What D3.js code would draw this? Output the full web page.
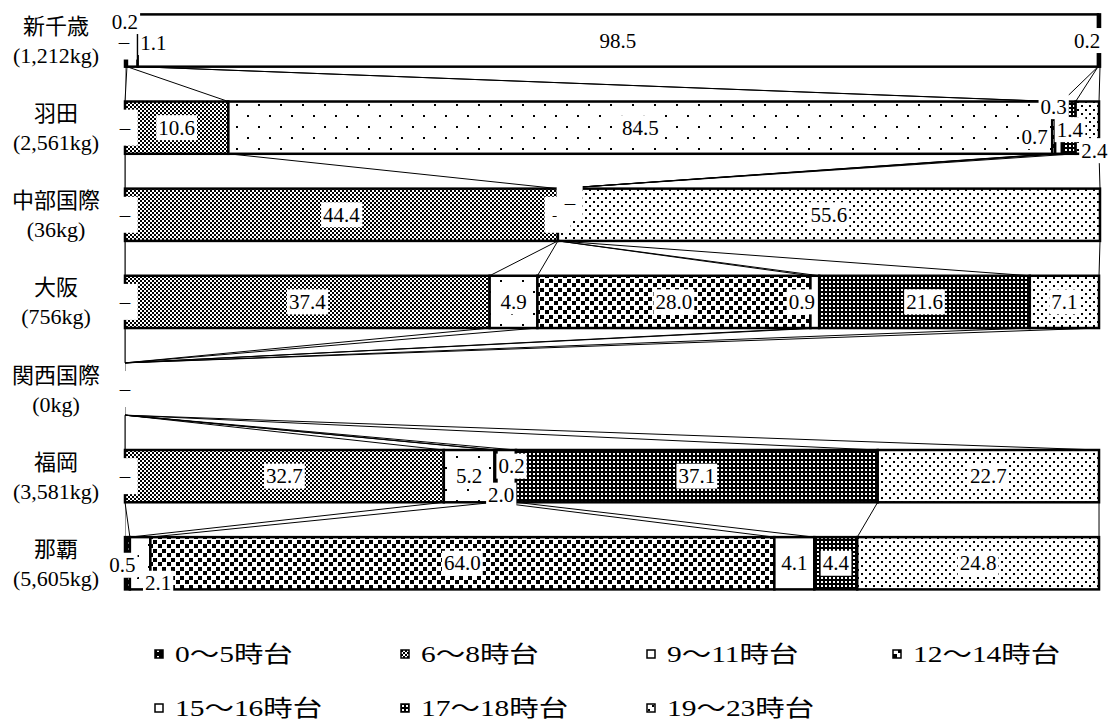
<!DOCTYPE html>
<html lang="ja">
<head>
<meta charset="utf-8">
<script src="https://cdn.jsdelivr.net/npm/d3@7"></script>
<style>
  body { margin: 0; background: #fff; }
  svg text { font-family: "Liberation Serif", "Noto Sans CJK JP", serif; fill: #000; }
</style>
</head>
<body>
<svg id="chart" width="1110" height="722"></svg>
<script>
var airports = ["新千歳", "羽田", "中部国際", "大阪", "関西国際", "福岡", "那覇"];
var weights = ["(1,212kg)", "(2,561kg)", "(36kg)", "(756kg)", "(0kg)", "(3,581kg)", "(5,605kg)"];
var slots = ["0～5時台", "6～8時台", "9～11時台", "12～14時台", "15～16時台", "17～18時台", "19～23時台"];

// share of each time slot (%), 0 is printed as "-", null has no label
var h00_05 = [0.2, 0, 0, 0, 0, 0, 0.5];
var h06_08 = [0, 10.6, 44.4, 37.4, null, 32.7, null];
var h09_11 = [1.1, 84.5, 0, 4.9, null, 5.2, 2.1];
var h12_14 = [null, 0.3, 0, 28.0, null, 0.2, 64.0];
var h15_16 = [98.5, 0.7, null, 0.9, null, 2.0, 4.1];
var h17_18 = [null, 1.4, null, 21.6, null, 37.1, 4.4];
var h19_23 = [0.2, 2.4, 55.6, 7.1, null, 22.7, 24.8];

var series = [h00_05, h06_08, h09_11, h12_14, h15_16, h17_18, h19_23];

// labels that were dragged away from the middle of their segment
var labelShift = {
  "新千歳|0": [-1, -19], "新千歳|1": [-3, 1], "新千歳|2": [21, 2], "新千歳|6": [-12, 0],
  "羽田|3": [0, -21], "羽田|4": [-24, 9], "羽田|5": [1, 2], "羽田|6": [7, 23],
  "中部国際|3": [12, -12],
  "大阪|4": [-13, 0],
  "福岡|3": [16, -10], "福岡|4": [-5, 19],
  "那覇|0": [-5, 2], "那覇|2": [18, 20]
};

var svg = d3.select("#chart");

var x = d3.scaleLinear().domain([0, 100]).range([125, 1100]);
var y = d3.scaleBand().domain(airports).range([14.4, 589.4]).paddingInner(0.4).paddingOuter(0);
var bw = y.bandwidth();

// fill patterns, one per time slot
var defs = svg.append("defs");
function pattern(id, w, h, bg, fg, dots) {
  var p = defs.append("pattern").attr("id", id)
    .attr("patternUnits", "userSpaceOnUse")
    .attr("width", w).attr("height", h);
  p.append("rect").attr("width", w).attr("height", h).attr("fill", bg);
  dots.forEach(function(d) {
    p.append("rect").attr("x", d[0]).attr("y", d[1])
      .attr("width", d[2]).attr("height", d[2])
      .attr("fill", fg).attr("shape-rendering", "crispEdges");
  });
}
pattern("p0", 6, 6, "#000", "#fff", [[2, 2, 2]]);
pattern("p1", 4, 4, "#fff", "#000", [[0, 0, 2], [2, 2, 2]]);
pattern("p2", 22, 22, "#fff", "#000", [[5, 5, 2], [16, 16, 2]]);
pattern("p3", 9, 9, "#fff", "#000", [[0, 0, 4], [5, 4, 4]]);
pattern("p4", 4, 4, "#fff", "#fff", []);
pattern("p5", 4, 4, "#000", "#fff", [[1, 1, 2]]);
pattern("p6", 8, 8, "#fff", "#000", [[1, 1, 2], [5, 5, 2]]);

var table = airports.map(function(a, i) {
  var row = { airport: a };
  series.forEach(function(s, k) { row[k] = s[i] == null ? 0 : s[i]; });
  return row;
});
var keys = d3.range(series.length);
var stacked = d3.stack().keys(keys)(table);

// category axis
var yAxis = svg.append("g")
  .attr("transform", "translate(" + x(0) + ",0)")
  .call(d3.axisLeft(y).tickSize(0).tickFormat(""));
yAxis.select(".domain").attr("stroke", "#999").attr("stroke-width", 1);

var cat = svg.append("g").selectAll("text")
  .data(airports)
  .enter().append("text")
  .attr("text-anchor", "middle")
  .style("font-size", "22px");
cat.append("tspan")
  .attr("x", 56)
  .attr("y", function(d) { return y(d) + bw / 2 - 14; })
  .attr("dominant-baseline", "central")
  .text(function(d) { return d; });
cat.append("tspan")
  .attr("x", 56)
  .attr("y", function(d) { return y(d) + bw / 2 + 15; })
  .attr("dominant-baseline", "central")
  .text(function(d, i) { return weights[i]; });

// bars
var layer = svg.append("g").selectAll("g")
  .data(stacked)
  .enter().append("g")
  .attr("fill", function(d) { return "url(#p" + d.key + ")"; });

layer.selectAll("rect")
  .data(function(d) { return d.filter(function(e) { return e[1] - e[0] > 0; }); })
  .enter().append("rect")
  .attr("x", function(d) { return x(d[0]); })
  .attr("y", function(d) { return y(d.data.airport); })
  .attr("width", function(d) { return x(d[1]) - x(d[0]); })
  .attr("height", bw)
  .attr("stroke", "#000")
  .attr("stroke-width", 2.5);

// series lines between neighbouring bars
var links = [];
stacked.forEach(function(s) {
  for (var i = 0; i < s.length - 1; i++) {
    links.push({ a: s[i], b: s[i + 1] });
  }
});
svg.append("g").selectAll("line")
  .data(links)
  .enter().append("line")
  .attr("x1", function(d) { return x(d.a[1]); })
  .attr("y1", function(d) { return y(d.a.data.airport) + bw; })
  .attr("x2", function(d) { return x(d.b[1]); })
  .attr("y2", function(d) { return y(d.b.data.airport); })
  .attr("stroke", "#000")
  .attr("stroke-width", 1);

// data labels, the "-" ones go underneath
var labels = [];
stacked.forEach(function(s, k) {
  s.forEach(function(d, i) {
    var v = series[k][i];
    if (v == null) return;
    var sh = labelShift[airports[i] + "|" + k] || [0, 0];
    labels.push({
      text: v === 0 ? "–" : v.toFixed(1),
      zero: v === 0,
      cx: x((d[0] + d[1]) / 2) + sh[0],
      cy: y(airports[i]) + bw / 2 + sh[1]
    });
  });
});
labels.sort(function(a, b) { return (b.zero ? 1 : 0) - (a.zero ? 1 : 0); });

var lab = svg.append("g").selectAll("g")
  .data(labels)
  .enter().append("g");
lab.append("rect").attr("fill", "#fff");
lab.append("text")
  .attr("x", function(d) { return d.cx; })
  .attr("y", function(d) { return d.cy; })
  .attr("text-anchor", "middle")
  .attr("dominant-baseline", "central")
  .style("font-size", "21px")
  .text(function(d) { return d.text; });
lab.each(function(d) {
  var g = d3.select(this);
  var b = g.select("text").node().getBBox();
  var px = d.zero ? 7 : 2, py = d.zero ? 6 : 0.5;
  g.select("rect")
    .attr("x", b.x - px).attr("y", b.y - py)
    .attr("width", b.width + 2 * px).attr("height", b.height + 2 * py);
});

// legend
var leg = svg.append("g").selectAll("g")
  .data(slots)
  .enter().append("g")
  .attr("transform", function(d, i) {
    return "translate(" + (155 + (i % 4) * 246) + "," + (654 + Math.floor(i / 4) * 54) + ")";
  });
leg.append("rect")
  .attr("x", 0).attr("y", -4).attr("width", 8).attr("height", 8)
  .attr("fill", function(d, i) { return "url(#p" + i + ")"; })
  .attr("stroke", "#000").attr("stroke-width", 1.5);
leg.append("text")
  .attr("x", 20)
  .attr("dominant-baseline", "central")
  .style("font-size", "23px")
  .text(function(d) { return d; })
  .each(function() {
    var w = this.getComputedTextLength();
    d3.select(this).attr("textLength", w * 1.28).attr("lengthAdjust", "spacingAndGlyphs");
  });
</script>
</body>
</html>
